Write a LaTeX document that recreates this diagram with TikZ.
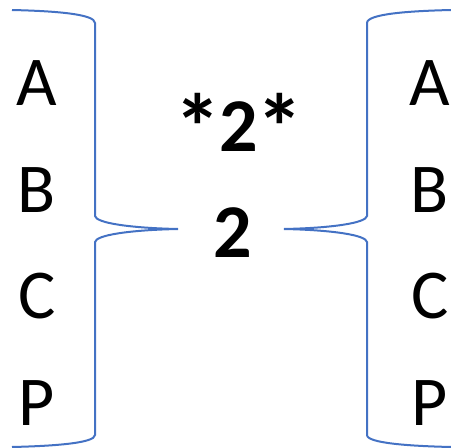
\documentclass[tikz,border=0pt]{standalone}
\usepackage{fontspec}
\setmainfont{Carlito}
\usetikzlibrary{calc}
\usetikzlibrary{positioning}
\definecolor{braceblue}{RGB}{68,114,196}
\tikzstyle{lt}=[anchor=base, inner sep=0pt, font=\fontsize{70}{84}\selectfont]
\tikzstyle{num}=[anchor=base, inner sep=0pt, font=\fontsize{76}{90}\selectfont\bfseries]
\tikzstyle{brace}=[draw=braceblue, line width=2pt]
\newcommand{\starmark}{\raisebox{-9pt}{\fontsize{94}{94}\selectfont *}}

\begin{document}
\begin{tikzpicture}[x=1pt,y=-1pt]
\useasboundingbox (0,0) rectangle (451,448);
%letters, left and right column
\node[lt] (la) at (37,105) {A};
\node[lt] (lb) at (37,212) {B};
\node[lt] (lc) at (37,318) {C};
\node[lt] (lp) at (37,425) {P};
\node[lt] (ra) at (430,105) {A};
\node[lt] (rb) at (430,212) {B};
\node[lt] (rc) at (430,318) {C};
\node[lt] (rp) at (430,425) {P};
\node[num] (star) at (239,151) {\starmark\kern-2pt2\kern-2pt\starmark};
\node[num] (two) at (233,257) {2};

%tips of the braces
\coordinate (ltip) at (178,229);
\coordinate (rtip) at (284,229);

\draw[brace] (12,10) .. controls (55,11) and (95,14) .. (95,23) -- (95,216)
  .. controls (96,223) and (130,228) .. (ltip)
  .. controls (130,230) and (96,235) .. (95,242) -- (95,435)
  .. controls (95,443) and (55,446) .. (12,447);
\draw[brace] (451,10) .. controls (408,11) and (367,14) .. (367,23) -- (367,216)
  .. controls (366,223) and (332,228) .. (rtip)
  .. controls (332,230) and (366,235) .. (367,242) -- (367,435)
  .. controls (367,443) and (408,446) .. (451,447);
\end{tikzpicture}
\end{document}
